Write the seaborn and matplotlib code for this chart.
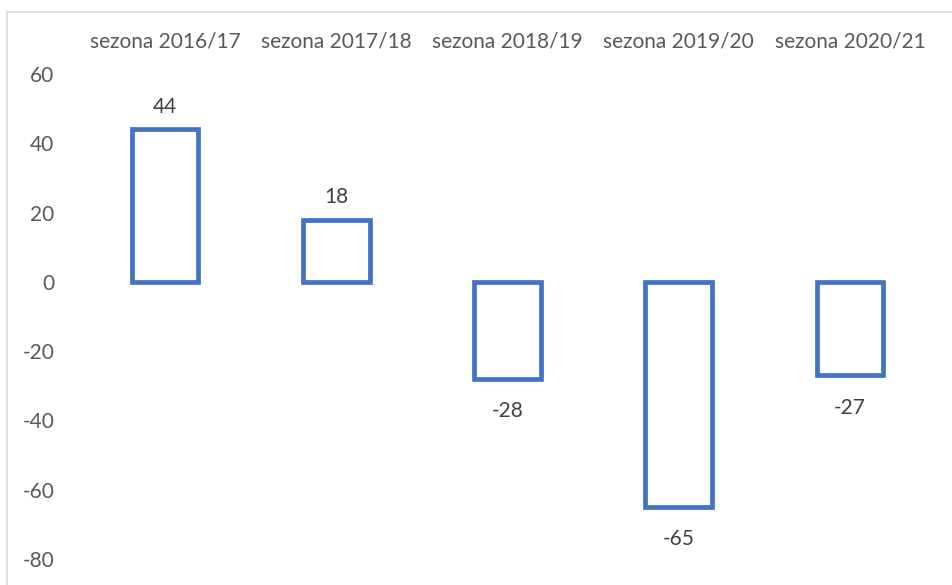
import matplotlib
matplotlib.use("Agg")
import matplotlib.pyplot as plt
from matplotlib.patches import Rectangle
import seaborn as sns
import pandas as pd

seasons = ["sezona 2016/17", "sezona 2017/18", "sezona 2018/19",
           "sezona 2019/20", "sezona 2020/21"]
values = [44, 18, -28, -65, -27]
y_ticks = [60, 40, 20, 0, -20, -40, -60, -80]

sns.set_theme(style="white")
plt.rcParams["font.family"] = ["Lato", "DejaVu Sans"]
plt.rcParams["axes.unicode_minus"] = False

df = pd.DataFrame({"season": seasons, "value": values})

fig = plt.figure(figsize=(9.52, 5.85), dpi=100)
ax = fig.add_axes([0.0835, 0.0444, 0.8992, 0.8291])

sns.barplot(data=df, x="season", y="value", ax=ax, fill=False,
            edgecolor="#4472C4", linewidth=3.4, width=0.39, errorbar=None)
for patch in ax.patches:
    patch.set_edgecolor("#4472C4")
    patch.set_facecolor("white")
    patch.set_linewidth(3.4)
    patch.set_joinstyle("miter")

# value labels outside the bar ends
for i, v in enumerate(values):
    if v >= 0:
        ax.annotate(str(v), (i, v), xytext=(0, 9), textcoords="offset points",
                    ha="center", va="bottom", fontsize=15, color="#404040")
    else:
        ax.annotate(str(v), (i, v), xytext=(0, -16), textcoords="offset points",
                    ha="center", va="top", fontsize=15, color="#404040")

ax.set_ylim(-80, 60)
ax.set_yticks(y_ticks)
ax.set_xlim(-0.5, len(seasons) - 0.5)
ax.xaxis.tick_top()
ax.tick_params(axis="x", length=0, pad=16, labelsize=15, labelcolor="#595959")
ax.tick_params(axis="y", length=0, pad=18, labelsize=15, labelcolor="#595959")
ax.set_xlabel("")
ax.set_ylabel("")
for spine in ax.spines.values():
    spine.set_visible(False)

# chart area frame
fig.patches.append(Rectangle((7 / 952, -0.1), 1.2, 1.1 - 12 / 585,
                             transform=fig.transFigure, fill=False,
                             edgecolor="#D9D9D9", linewidth=1.2))

fig.savefig("out.png", dpi=100)
